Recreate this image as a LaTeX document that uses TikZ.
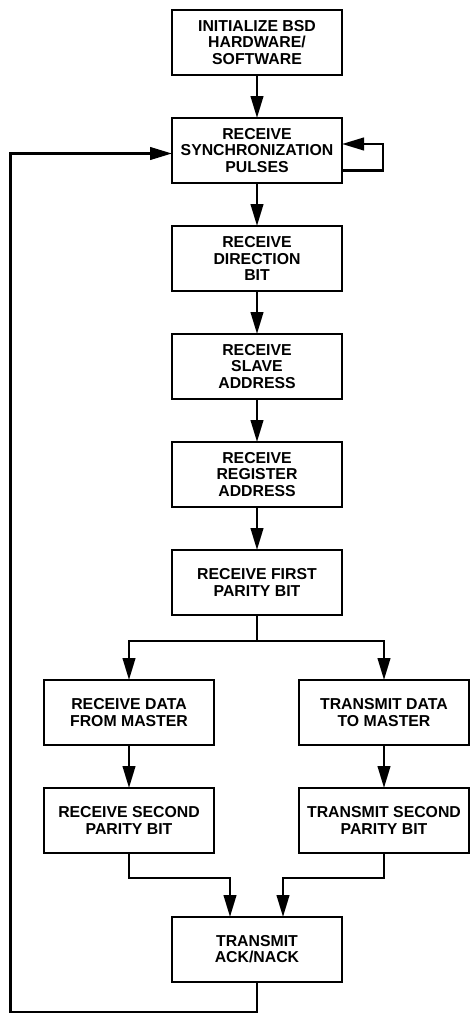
\documentclass[tikz,border=0pt]{standalone}
\usepackage{fontspec}
\setmainfont{Liberation Sans}
\usetikzlibrary{arrows.meta,positioning}
\tikzset{
  stepbox/.style={rectangle, draw=black, line width=1.5pt, fill=white,
                  minimum width=3.4cm, minimum height=1.3cm, inner sep=0pt,
                  outer sep=0pt, font=\fontsize{9}{9.2}\selectfont\bfseries,
                  align=center},
  flow/.style={-{Triangle[length=0.44cm, width=0.25cm]}, line width=1.5pt},
}

\begin{document}
\begin{tikzpicture}[node distance=0.86cm]
\useasboundingbox (0,0) rectangle (9.4,-20.26);

%% Main column
\node[stepbox] (init) at (5.14,-0.85) {INITIALIZE BSD\\HARDWARE/\\SOFTWARE};
\node[stepbox, below=of init]  (sync)  {RECEIVE\\SYNCHRONIZATION\\PULSES};
\node[stepbox, below=of sync]  (dir)   {RECEIVE\\DIRECTION\\BIT};
\node[stepbox, below=of dir]   (slave) {RECEIVE\\SLAVE\\ADDRESS};
\node[stepbox, below=of slave] (reg)   {RECEIVE\\REGISTER\\ADDRESS};
\node[stepbox, below=of reg]   (par1)  {RECEIVE FIRST\\PARITY BIT};

%% Two branches
\node[stepbox, below=1.3cm of par1, xshift=-2.56cm] (rxdata) {RECEIVE DATA\\FROM MASTER};
\node[stepbox, below=1.3cm of par1, xshift=2.54cm]  (txdata) {TRANSMIT DATA\\TO MASTER};
\node[stepbox, below=of rxdata] (rxpar) {RECEIVE SECOND\\PARITY BIT};
\node[stepbox, below=of txdata] (txpar) {TRANSMIT SECOND\\PARITY BIT};

%% Join
\coordinate (join) at (par1 |- rxpar.south);
\node[stepbox, below=1.28cm of join] (ack) {TRANSMIT\\ACK/NACK};

%% Connectors
\draw[flow] (init) -- (sync);
\draw[flow] (sync) -- (dir);
\draw[flow] (dir) -- (slave);
\draw[flow] (slave) -- (reg);
\draw[flow] (reg) -- (par1);
\draw[flow] (par1.south) -- ++(0,-0.52) -| (rxdata.north);
\draw[flow] (par1.south) -- ++(0,-0.52) -| (txdata.north);
\draw[flow] (rxdata) -- (rxpar);
\draw[flow] (txdata) -- (txpar);
\draw[flow] (rxpar.south) -- ++(0,-0.5) -| ([xshift=-0.54cm]ack.north);
\draw[flow] (txpar.south) -- ++(0,-0.5) -| ([xshift=0.52cm]ack.north);

%% Wait loop on sync pulses
\draw[flow] ([yshift=-0.4cm]sync.east) -- ++(0.82,0) |- ([yshift=0.13cm]sync.east);

%% Back to sync after ACK/NACK
\coordinate (ret) at ([yshift=-0.06cm]sync.west);
\coordinate (side) at (0.21,0);
\draw[flow] (ack.south) -- ++(0,-0.6) -| (side |- ret) -- (ret);

\end{tikzpicture}
\end{document}
